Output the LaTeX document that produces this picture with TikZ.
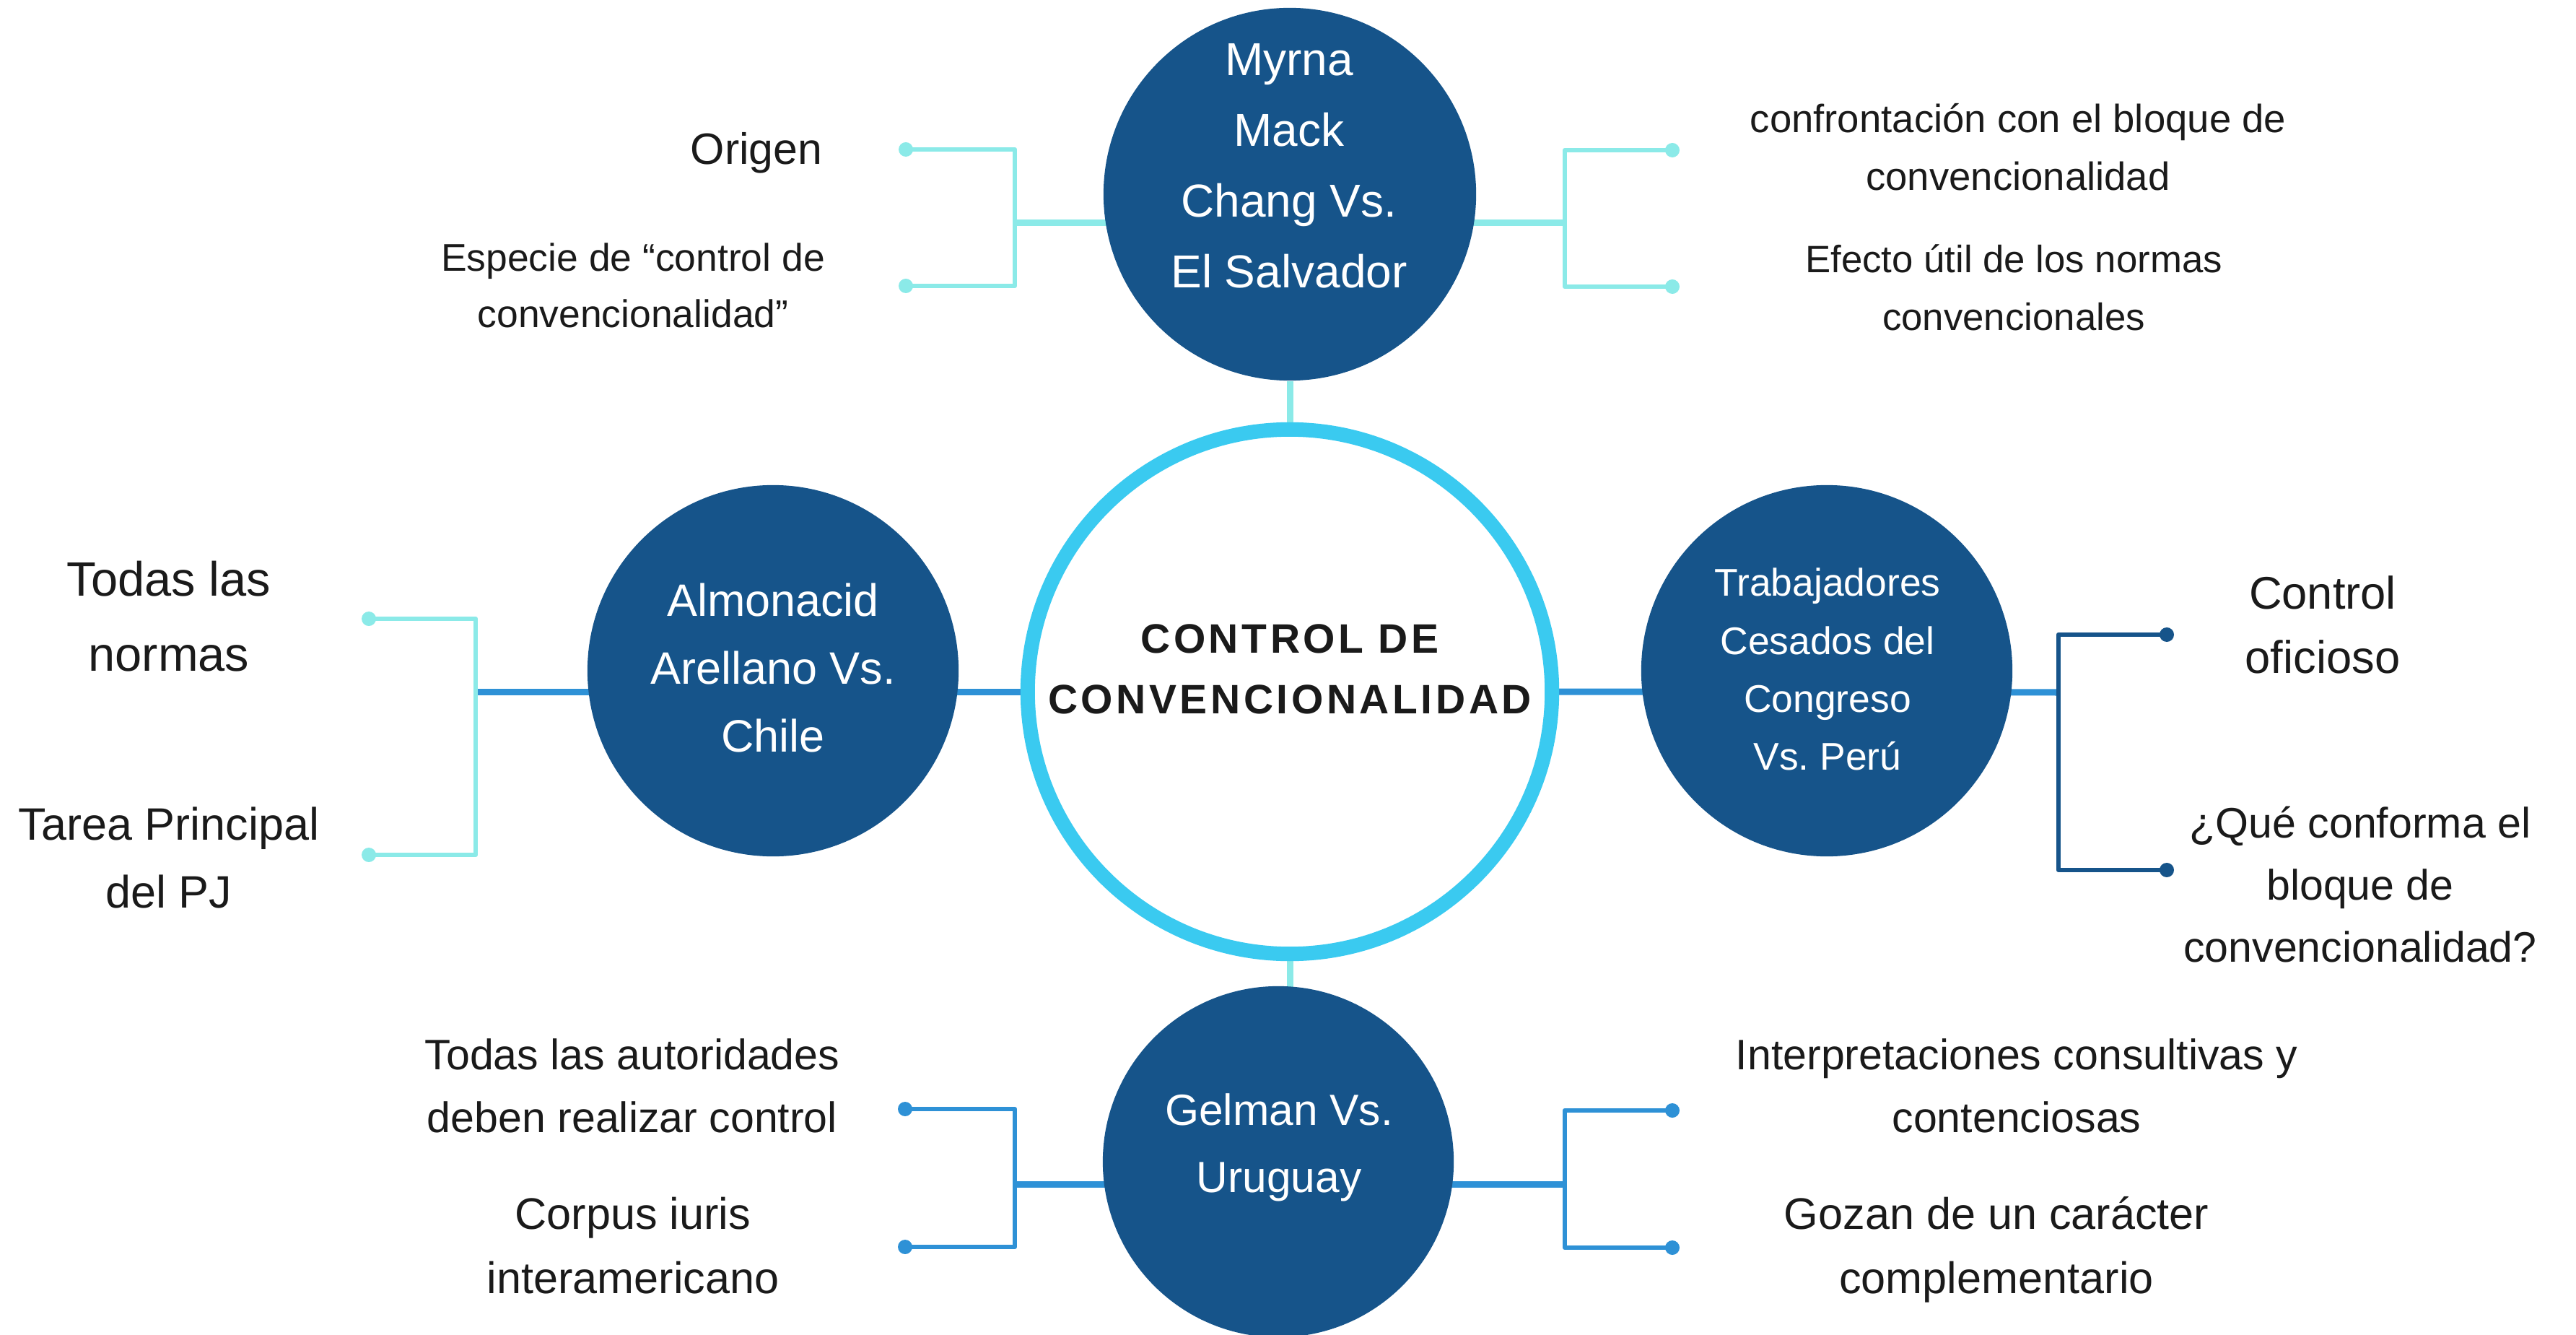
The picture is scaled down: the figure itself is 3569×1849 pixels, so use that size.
\documentclass[tikz,border=0pt]{standalone}
\usepackage{fontspec}
\setmainfont{Liberation Sans}
\newfontfamily\corefont[LetterSpace=8]{Liberation Sans}
\usepackage{xcolor}
\usetikzlibrary{backgrounds}
\frenchspacing

\definecolor{navy}{RGB}{22,84,138}
\definecolor{ring}{RGB}{58,202,240}
\definecolor{aqua}{RGB}{139,234,232}
\definecolor{midblue}{RGB}{46,145,214}
\definecolor{ink}{RGB}{26,26,26}
\newcommand{\fsz}[2]{\fontsize{#1}{#2}\selectfont}

\begin{document}
\begin{tikzpicture}[x=0.01cm,y=-0.01cm,
  casebox/.style={circle,fill=navy,inner sep=0pt,minimum size=5.16cm},
  corebox/.style={circle,draw=ring,line width=0.2cm,fill=white,inner sep=0pt,minimum size=7.26cm},
  leaf/.style={align=center,inner sep=0pt,text=ink},
  caselabel/.style={align=center,inner sep=0pt,text=white},
  dot/.style={circle,fill=#1,inner sep=0pt,minimum size=0.2cm},
  link/.style={draw=#1,line width=0.09cm},
  bracketline/.style={draw=#1,line width=0.065cm,line join=round}]

  \useasboundingbox (0,0) rectangle (3569,1849);

  % circles
  \node[corebox] (core) at (1787,958) {};
  \node[casebox] (myrna) at (1787,269) {};
  \node[casebox,minimum size=5.14cm] (almonacid) at (1071,929) {};
  \node[casebox,minimum size=5.14cm] (trabajadores) at (2531,929) {};
  \node[casebox,minimum size=4.86cm] (gelman) at (1771,1609) {};

  % bracket junctions and end dots
  \coordinate (mL) at (1406,309);
  \coordinate (mR) at (2168,309);
  \coordinate (aL) at (659,958);
  \coordinate (tR) at (2852,959);
  \coordinate (gL) at (1406,1640);
  \coordinate (gR) at (2168,1640);

  \node[dot=aqua] (mL1) at (1255,207) {};
  \node[dot=aqua] (mL2) at (1255,396) {};
  \node[dot=aqua] (mR1) at (2317,208) {};
  \node[dot=aqua] (mR2) at (2317,397) {};
  \node[dot=aqua] (aL1) at (511,857) {};
  \node[dot=aqua] (aL2) at (511,1184) {};
  \node[dot=navy] (tR1) at (3002,879) {};
  \node[dot=navy] (tR2) at (3002,1205) {};
  \node[dot=midblue] (gL1) at (1254,1536) {};
  \node[dot=midblue] (gL2) at (1254,1727) {};
  \node[dot=midblue] (gR1) at (2317,1538) {};
  \node[dot=midblue] (gR2) at (2317,1728) {};

  \begin{scope}[on background layer]
    \draw[link=aqua] (myrna.south) -- (core.north);
    \draw[link=aqua] (core.south) -- (core.south |- gelman.center);
    \draw[link=aqua] (myrna.center |- mL) -- (mL);
    \draw[link=aqua] (myrna.center |- mR) -- (mR);
    \draw[link=midblue] (core.west) -- (aL);
    \draw[link=midblue] (core.east) -- (tR);
    \draw[link=midblue] (gelman.center |- gL) -- (gL);
    \draw[link=midblue] (gelman.center |- gR) -- (gR);

    \draw[bracketline=aqua] (mL1.center) -- (mL1 -| mL) -- (mL2 -| mL) -- (mL2.center);
    \draw[bracketline=aqua] (mR1.center) -- (mR1 -| mR) -- (mR2 -| mR) -- (mR2.center);
    \draw[bracketline=aqua] (aL1.center) -- (aL1 -| aL) -- (aL2 -| aL) -- (aL2.center);
    \draw[bracketline=navy] (tR1.center) -- (tR1 -| tR) -- (tR2 -| tR) -- (tR2.center);
    \draw[bracketline=midblue] (gL1.center) -- (gL1 -| gL) -- (gL2 -| gL) -- (gL2.center);
    \draw[bracketline=midblue] (gR1.center) -- (gR1 -| gR) -- (gR2 -| gR) -- (gR2.center);
  \end{scope}

  % circle texts
  \node[leaf,font=\corefont\bfseries\fsz{16.2}{23.9}] (coretext) at (1787,927) {CONTROL DE\\CONVENCIONALIDAD};
  \node[caselabel,font=\fsz{18.2}{27.9}] (myrnatext) at (1786,230) {Myrna\\Mack\\Chang Vs.\\El Salvador};
  \node[caselabel,font=\fsz{17.9}{26.7}] (almonacidtext) at (1071,925) {Almonacid\\Arellano Vs.\\Chile};
  \node[caselabel,font=\fsz{15.2}{22.8}] (trabajadorestext) at (2532,927) {Trabajadores\\Cesados del\\Congreso\\Vs. Perú};
  \node[caselabel,font=\fsz{17.2}{26.5}] (gelmantext) at (1772,1589) {Gelman Vs.\\Uruguay};

  % outer texts
  \node[leaf,font=\fsz{17.3}{25}] (origen) at (1048,212) {Origen};
  \node[leaf,font=\fsz{15.2}{22.2}] (especie) at (877,395) {Especie de “control de\\convencionalidad”};
  \node[leaf,font=\fsz{15.5}{22.8}] (confront) at (2796,204) {confrontación con el bloque de\\convencionalidad};
  \node[leaf,font=\fsz{15}{22.8}] (efecto) at (2790,398) {Efecto útil de los normas\\convencionales};
  \node[leaf,font=\fsz{19}{29.6}] (todas) at (234,854) {Todas las\\normas};
  \node[leaf,font=\fsz{17.9}{26.7}] (tarea) at (234,1188) {Tarea Principal\\del PJ};
  \node[leaf,font=\fsz{18}{25.3}] (oficioso) at (3218,865) {Control\\oficioso};
  \node[leaf,font=\fsz{16.8}{24.5}] (bloque) at (3270,1225) {¿Qué conforma el\\bloque de\\convencionalidad?};
  \node[leaf,font=\fsz{16.8}{24.8}] (autoridades) at (876,1504) {Todas las autoridades\\deben realizar control};
  \node[leaf,font=\fsz{17.4}{25.3}] (corpus) at (877,1725) {Corpus iuris\\interamericano};
  \node[leaf,font=\fsz{16.8}{24.8}] (interp) at (2794,1504) {Interpretaciones consultivas y\\contenciosas};
  \node[leaf,font=\fsz{17.4}{25.3}] (gozan) at (2766,1731) {Gozan de un carácter\\complementario};
\end{tikzpicture}
\end{document}
